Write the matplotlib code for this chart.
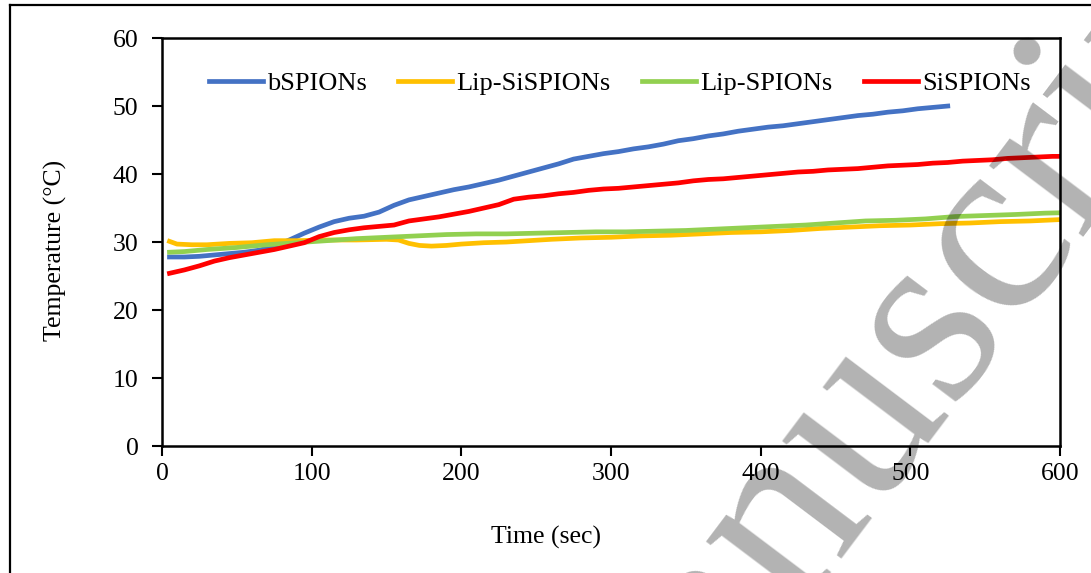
import matplotlib
matplotlib.use("Agg")
import matplotlib.pyplot as plt
from matplotlib.lines import Line2D

plt.rcParams['font.family'] = ['Liberation Serif', 'DejaVu Serif']

# time (sec) / temperature (C)
t_b = [5, 15, 25, 35, 45, 55, 65, 75, 85, 95, 105, 115, 125, 135, 145, 155, 165, 175,
       185, 195, 205, 215, 225, 235, 245, 255, 265, 275, 285, 295, 305, 315, 325, 335,
       345, 355, 365, 375, 385, 395, 405, 415, 425, 435, 445, 455, 465, 475, 485, 495,
       505, 515, 525]
bspions = [27.8, 27.8, 27.9, 28.1, 28.3, 28.5, 28.8, 29.4, 30.3, 31.3, 32.2, 33.0, 33.5,
           33.8, 34.4, 35.4, 36.2, 36.7, 37.2, 37.7, 38.1, 38.6, 39.1, 39.7, 40.3, 40.9,
           41.5, 42.2, 42.6, 43.0, 43.3, 43.7, 44.0, 44.4, 44.9, 45.2, 45.6, 45.9, 46.3,
           46.6, 46.9, 47.1, 47.4, 47.7, 48.0, 48.3, 48.6, 48.8, 49.1, 49.3, 49.6, 49.8, 50.0]

t_ls = [5, 10, 20, 30, 45, 60, 75, 90, 110, 130, 150, 158, 165, 172, 180, 190, 200, 215,
        230, 245, 260, 280, 300, 320, 340, 360, 380, 400, 420, 440, 460, 480, 500, 520,
        540, 560, 580, 600]
lip_sispions = [30.1, 29.7, 29.6, 29.6, 29.8, 29.9, 30.2, 30.2, 30.3, 30.3, 30.4, 30.3,
                29.8, 29.5, 29.4, 29.5, 29.7, 29.9, 30.0, 30.2, 30.4, 30.6, 30.7, 30.9,
                31.0, 31.2, 31.4, 31.5, 31.7, 32.0, 32.2, 32.4, 32.5, 32.7, 32.8, 33.0,
                33.1, 33.3]

t_lp = [5, 15, 30, 50, 70, 90, 110, 130, 150, 170, 190, 210, 230, 250, 270, 290, 310,
        330, 350, 370, 390, 410, 430, 450, 470, 490, 510, 530, 550, 570, 590, 600]
lip_spions = [28.5, 28.6, 28.9, 29.2, 29.6, 29.9, 30.2, 30.5, 30.7, 30.9, 31.1, 31.2,
              31.2, 31.3, 31.4, 31.5, 31.5, 31.6, 31.7, 31.9, 32.1, 32.3, 32.5, 32.8,
              33.1, 33.2, 33.4, 33.75, 33.9, 34.05, 34.25, 34.3]

t_s = [5, 15, 25, 35, 45, 55, 65, 75, 85, 95, 105, 115, 125, 135, 145, 155, 165, 175,
       185, 195, 205, 215, 225, 235, 245, 255, 265, 275, 285, 295, 305, 315, 325, 335,
       345, 355, 365, 375, 385, 395, 405, 415, 425, 435, 445, 455, 465, 475, 485, 495,
       505, 515, 525, 535, 545, 555, 565, 575, 585, 595, 600]
sispions = [25.4, 25.9, 26.5, 27.2, 27.7, 28.1, 28.5, 28.9, 29.4, 29.9, 30.8, 31.4, 31.8,
            32.1, 32.3, 32.5, 33.1, 33.4, 33.7, 34.1, 34.5, 35.0, 35.5, 36.3, 36.6, 36.8,
            37.1, 37.3, 37.6, 37.8, 37.9, 38.1, 38.3, 38.5, 38.7, 39.0, 39.2, 39.3, 39.5,
            39.7, 39.9, 40.1, 40.3, 40.4, 40.6, 40.7, 40.8, 41.0, 41.2, 41.3, 41.4, 41.6,
            41.7, 41.9, 42.0, 42.1, 42.3, 42.4, 42.5, 42.6, 42.6]

fig = plt.figure(figsize=(10.91, 5.73), dpi=100)
ax = fig.add_axes([0.1485, 0.2216, 0.8231, 0.712])

lw = 3.4
ax.plot(t_b, bspions, color='#4472C4', lw=lw, label='bSPIONs')
ax.plot(t_ls, lip_sispions, color='#FFC000', lw=lw, label='Lip-SiSPIONs')
ax.plot(t_lp, lip_spions, color='#92D050', lw=lw, label='Lip-SPIONs')
ax.plot(t_s, sispions, color='#FF0000', lw=lw, label='SiSPIONs')

ax.set_xlim(0, 600)
ax.set_ylim(0, 60)
ax.set_xticks(range(0, 601, 100))
ax.set_yticks(range(0, 61, 10))
for s in ax.spines.values():
    s.set_linewidth(1.8)
ax.tick_params(axis='both', direction='out', length=7, width=1.5, labelsize=18.5)
ax.tick_params(axis='y', pad=10)
ax.tick_params(axis='x', pad=5)

fig.legend(loc='center', bbox_to_anchor=(0.568, 0.855), ncol=4, frameon=False,
           fontsize=19, handlelength=2.05, handletextpad=0.15, columnspacing=1.2)

fig.text(0.5005, 0.0628, 'Time (sec)', ha='center', va='center', fontsize=18.5)
fig.text(0.0504, 0.5637, 'Temperature (°C)', ha='center', va='center',
         rotation=90, fontsize=18.5)

# page frame
fig.add_artist(Line2D([10 / 1091, 10 / 1091], [0, 1 - 5 / 573], color='black', lw=1.6,
                      transform=fig.transFigure))
fig.add_artist(Line2D([10 / 1091, 1], [1 - 5 / 573, 1 - 5 / 573], color='black', lw=1.6,
                      transform=fig.transFigure))

# watermark
fig.text(0.8176, 0.338, 'Manuscript', fontsize=185, color='black', alpha=0.3,
         rotation=53, rotation_mode='anchor', ha='center', va='center', zorder=10)

fig.savefig('out.png', dpi=100)
